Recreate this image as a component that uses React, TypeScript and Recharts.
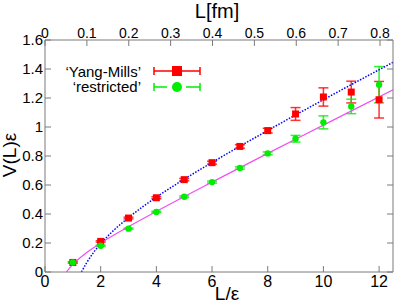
import { ComposedChart, Scatter, Line, XAxis, YAxis, ErrorBar } from "recharts";

// lattice data
const latticeL = [1, 2, 3, 4, 5, 6, 7, 8, 9, 10, 11, 12];
const yangMills = [0.066, 0.211, 0.372, 0.512, 0.637, 0.754, 0.866, 0.975, 1.09, 1.207, 1.241, 1.188];
const yangMillsErr = [0.005, 0.005, 0.006, 0.007, 0.008, 0.01, 0.012, 0.016, 0.044, 0.063, 0.075, 0.126];
const restricted = [0.066, 0.181, 0.299, 0.414, 0.519, 0.62, 0.717, 0.818, 0.919, 1.032, 1.142, 1.292];
const restrictedErr = [0.004, 0.004, 0.004, 0.005, 0.006, 0.007, 0.008, 0.01, 0.023, 0.045, 0.05, 0.125];

// fit curves, sampled along the drawn lines
const fitYangMillsL = [1.31, 1.5, 1.75, 2, 2.5, 3, 4, 5, 6, 8, 10, 12.5];
const fitYangMillsV = [0, 0.065, 0.136, 0.195, 0.293, 0.375, 0.516, 0.64, 0.755, 0.976, 1.188, 1.446];
const fitRestrictedL = [0.77, 0.85, 1, 1.25, 1.5, 2, 3, 4, 6, 8, 10, 12.5];
const fitRestrictedV = [0, 0.02, 0.052, 0.097, 0.134, 0.2, 0.313, 0.418, 0.62, 0.818, 1.013, 1.257];

const bottomTicks = [0, 2, 4, 6, 8, 10, 12];
const leftTicks = [0, 0.2, 0.4, 0.6, 0.8, 1, 1.2, 1.4, 1.6];
const topTicks = [0, 0.1, 0.2, 0.3, 0.4, 0.5, 0.6, 0.7, 0.8];

const ymData = latticeL.map((x, i) => ({ x, v: yangMills[i], err: yangMillsErr[i] }));
const rData = latticeL.map((x, i) => ({ x, v: restricted[i], err: restrictedErr[i] }));
const ymFit = fitYangMillsL.map((x, i) => ({ x, v: fitYangMillsV[i] }));
const rFit = fitRestrictedL.map((x, i) => ({ x, v: fitRestrictedV[i] }));
// invisible helper so the top (fm) and right axes get drawn
const frameAnchor = [
  { x: topTicks[0], v: leftTicks[0] },
  { x: topTicks[topTicks.length - 1], v: leftTicks[leftTicks.length - 1] },
];

const AXIS = "#7a7a7a";
const RED = "#ff0000";
const GREEN = "#00ee00";

function BottomTick({ x, y, payload }: any) {
  return (
    <g>
      <line x1={x} x2={x} y1={y} y2={y - 6} stroke={AXIS} />
      <text x={x} y={y + 15} textAnchor="middle" fontSize={16} fill="#000">
        {payload.value}
      </text>
    </g>
  );
}

function TopTick({ x, y, payload }: any) {
  return (
    <g>
      <line x1={x} x2={x} y1={y} y2={y + 6} stroke={AXIS} />
      <text x={x} y={y - 2} textAnchor="middle" fontSize={14} fill="#000">
        {payload.value}
      </text>
    </g>
  );
}

function LeftTick({ x, y, payload }: any) {
  return (
    <g>
      <line x1={x} x2={x + 6} y1={y} y2={y} stroke={AXIS} />
      <text x={x - 2} y={y + 5} textAnchor="end" fontSize={15} fill="#000">
        {payload.value}
      </text>
    </g>
  );
}

function RightTick({ x, y }: any) {
  return <line x1={x} x2={x - 6} y1={y} y2={y} stroke={AXIS} />;
}

const RedSquare = (p: any) => (
  <rect x={p.cx - 3.5} y={p.cy - 3.5} width={7} height={7} fill={RED} />
);
const GreenDot = (p: any) => <circle cx={p.cx} cy={p.cy} r={3.2} fill={GREEN} />;

export default function App() {
  return (
    <div
      style={{
        position: "absolute",
        left: 0,
        top: 0,
        width: 395,
        height: 304,
        fontFamily: "'Liberation Sans', Arial, sans-serif",
        background: "#fff",
      }}
    >
      <ComposedChart
        width={395}
        height={304}
        margin={{ top: 0, right: 0, bottom: 0, left: 0 }}
      >
        <XAxis
          xAxisId="b"
          dataKey="x"
          type="number"
          domain={[0, 12.5]}
          ticks={bottomTicks}
          allowDataOverflow
          height={32}
          tickSize={0}
          tickMargin={0}
          axisLine={{ stroke: AXIS }}
          tickLine={false}
          tick={<BottomTick />}
          interval={0}
        />
        <XAxis
          xAxisId="t"
          dataKey="x"
          orientation="top"
          type="number"
          domain={[0, 0.831]}
          ticks={topTicks}
          allowDataOverflow
          height={40}
          tickSize={0}
          tickMargin={0}
          axisLine={{ stroke: AXIS }}
          tickLine={false}
          tick={<TopTick />}
          interval={0}
        />
        <YAxis
          yAxisId="l"
          type="number"
          domain={[0, 1.6]}
          ticks={leftTicks}
          allowDataOverflow
          width={45}
          tickSize={0}
          tickMargin={0}
          axisLine={{ stroke: AXIS }}
          tickLine={false}
          tick={<LeftTick />}
          interval={0}
        />
        <YAxis
          yAxisId="r"
          orientation="right"
          type="number"
          domain={[0, 1.6]}
          ticks={leftTicks}
          allowDataOverflow
          width={2}
          tickSize={0}
          tickMargin={0}
          axisLine={{ stroke: AXIS }}
          tickLine={false}
          tick={<RightTick />}
          interval={0}
        />
        <Line
          xAxisId="t"
          yAxisId="r"
          data={frameAnchor}
          dataKey="v"
          stroke="none"
          dot={false}
          activeDot={false}
          legendType="none"
          isAnimationActive={false}
        />
        <Scatter
          xAxisId="b"
          yAxisId="l"
          data={ymData}
          dataKey="v"
          shape={RedSquare}
          isAnimationActive={false}
        >
          <ErrorBar dataKey="err" direction="y" width={5} stroke={RED} strokeOpacity={0.8} isAnimationActive={false} />
        </Scatter>
        <Scatter
          xAxisId="b"
          yAxisId="l"
          data={rData}
          dataKey="v"
          shape={GreenDot}
          isAnimationActive={false}
        >
          <ErrorBar dataKey="err" direction="y" width={5} stroke={GREEN} strokeOpacity={0.8} isAnimationActive={false} />
        </Scatter>
        <Line
          xAxisId="b"
          yAxisId="l"
          data={ymFit}
          dataKey="v"
          type="monotone"
          stroke="#0000ff"
          strokeWidth={1.5}
          strokeDasharray="1.5 1.5"
          dot={false}
          isAnimationActive={false}
        />
        <Line
          xAxisId="b"
          yAxisId="l"
          data={rFit}
          dataKey="v"
          type="monotone"
          stroke="#f050f0"
          strokeWidth={1.2}
          dot={false}
          isAnimationActive={false}
        />
      </ComposedChart>
      <svg
        width={395}
        height={304}
        style={{ position: "absolute", left: 0, top: 0, pointerEvents: "none" }}
      >
        <text x={217} y={18} textAnchor="middle" fontSize={20}>L[fm]</text>
        <text x={227} y={300} textAnchor="middle" fontSize={19}>L/ε</text>
        <text transform="translate(16,155) rotate(-90)" textAnchor="middle" fontSize={19}>V(L)ε</text>
        <text x={141} y={77} textAnchor="end" fontSize={15}>‘Yang-Mills’</text>
        <text x={141} y={92} textAnchor="end" fontSize={15}>‘restricted’</text>
        <g stroke={RED} strokeWidth={1.5}>
          <line x1={154} x2={200} y1={71} y2={71} />
          <line x1={154} x2={154} y1={67} y2={75} />
          <line x1={200} x2={200} y1={67} y2={75} />
        </g>
        <rect x={172} y={66} width={10} height={10} fill={RED} />
        <g stroke={GREEN} strokeWidth={1.5}>
          <line x1={154} x2={200} y1={87} y2={87} strokeDasharray="13 5 9 5 14" />
          <line x1={154} x2={154} y1={83} y2={91} />
          <line x1={200} x2={200} y1={83} y2={91} />
        </g>
        <circle cx={177} cy={87} r={5} fill={GREEN} />
      </svg>
    </div>
  );
}
